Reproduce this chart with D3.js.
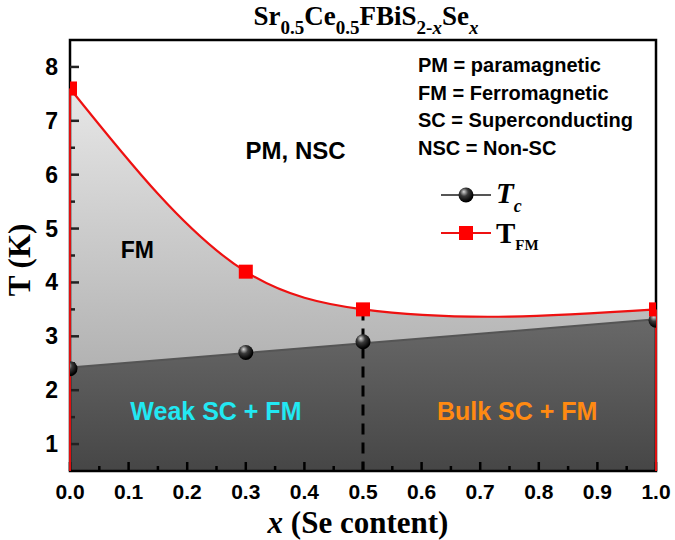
<!DOCTYPE html>
<html><head><meta charset="utf-8">
<script src="https://cdn.jsdelivr.net/npm/d3@7"></script>
<style>body{margin:0;background:#fff}svg{display:block}</style>
</head><body>
<script>
// ---- data ----
const xContent = [0, 0.3, 0.5, 1.0];
const tcValues = [2.4, 2.7, 2.9, 3.3];
const tfmValues = [7.6, 4.2, 3.5, 3.5];
const xTicks = [0, 0.1, 0.2, 0.3, 0.4, 0.5, 0.6, 0.7, 0.8, 0.9, 1.0];
const yTicks = [1, 2, 3, 4, 5, 6, 7, 8];
const glossary = ["PM = paramagnetic", "FM = Ferromagnetic", "SC = Superconducting", "NSC = Non-SC"];
const dashedAt = 0.5;

// natural cubic spline parameterised by x, as a d3 curve
function NaturalX(context) { this._context = context; }
NaturalX.prototype = {
  areaStart() { this._line = 0; },
  areaEnd() { this._line = NaN; },
  lineStart() { this._x = []; this._y = []; },
  point(px, py) { this._x.push(+px); this._y.push(+py); },
  lineEnd() {
    const X = this._x, Y = this._y, n = X.length, c = this._context;
    if (n) {
      this._line ? c.lineTo(X[0], Y[0]) : c.moveTo(X[0], Y[0]);
      if (n === 2) c.lineTo(X[1], Y[1]);
      else if (n > 2) {
        const h = [], d = [];
        for (let i = 0; i < n - 1; i++) { h[i] = X[i + 1] - X[i]; d[i] = (Y[i + 1] - Y[i]) / h[i]; }
        const M = new Array(n).fill(0);
        const a = [], b = [], cc = [], r = [];
        for (let i = 1; i < n - 1; i++) {
          a[i] = h[i - 1]; b[i] = 2 * (h[i - 1] + h[i]); cc[i] = h[i]; r[i] = 6 * (d[i] - d[i - 1]);
        }
        for (let i = 2; i < n - 1; i++) {
          const w = a[i] / b[i - 1];
          b[i] -= w * cc[i - 1]; r[i] -= w * r[i - 1];
        }
        for (let i = n - 2; i >= 1; i--) {
          M[i] = (r[i] - (i < n - 2 ? cc[i] * M[i + 1] : 0)) / b[i];
        }
        for (let i = 0; i < n - 1; i++) {
          const s0 = d[i] - h[i] * (2 * M[i] + M[i + 1]) / 6;
          const s1 = d[i] + h[i] * (M[i] + 2 * M[i + 1]) / 6;
          c.bezierCurveTo(X[i] + h[i] / 3, Y[i] + s0 * h[i] / 3,
                          X[i + 1] - h[i] / 3, Y[i + 1] - s1 * h[i] / 3,
                          X[i + 1], Y[i + 1]);
        }
      }
    }
    if (this._line || (this._line !== 0 && n === 1)) c.closePath();
    this._line = 1 - this._line;
    this._x = this._y = null;
  }
};
const curveNaturalX = ctx => new NaturalX(ctx);

const W = 675, H = 540;
const m = {left: 70, right: 19, top: 40, bottom: 69};
const svg = d3.select("body").append("svg").attr("width", W).attr("height", H);
const x = d3.scaleLinear().domain([0, 1]).range([m.left, W - m.right]);
const y = d3.scaleLinear().domain([0.5, 8.5]).range([H - m.bottom, m.top]);

const defs = svg.append("defs");
defs.append("clipPath").attr("id", "plot").append("rect")
  .attr("x", x(0)).attr("y", y(8.5)).attr("width", x(1) - x(0)).attr("height", y(0.5) - y(8.5));
const gLight = defs.append("linearGradient").attr("id", "light").attr("gradientUnits", "userSpaceOnUse")
  .attr("x1", 0).attr("x2", 0).attr("y1", y(8.5)).attr("y2", y(2.4));
gLight.append("stop").attr("offset", 0).attr("stop-color", "#f0f0f0");
gLight.append("stop").attr("offset", 1).attr("stop-color", "#b2b2b2");
const gDark = defs.append("linearGradient").attr("id", "dark").attr("gradientUnits", "userSpaceOnUse")
  .attr("x1", 0).attr("x2", 0).attr("y1", y(3.3)).attr("y2", y(0.5));
gDark.append("stop").attr("offset", 0).attr("stop-color", "#686868");
gDark.append("stop").attr("offset", 1).attr("stop-color", "#464646");
const gBall = defs.append("radialGradient").attr("id", "ball").attr("cx", "40%").attr("cy", "35%").attr("r", "60%").attr("fx", "35%").attr("fy", "28%");
gBall.append("stop").attr("offset", 0).attr("stop-color", "#d8d8d8");
gBall.append("stop").attr("offset", 0.45).attr("stop-color", "#3a3a3a");
gBall.append("stop").attr("offset", 1).attr("stop-color", "#000");

const tfmData = xContent.map((d, i) => [d, tfmValues[i]]);
const tcData = xContent.map((d, i) => [d, tcValues[i]]);

// linear fit of Tc
const mx = d3.mean(xContent), my = d3.mean(tcValues);
const slope = d3.sum(xContent, (d, i) => (d - mx) * (tcValues[i] - my)) / d3.sum(xContent, d => (d - mx) ** 2);
const icpt = my - slope * mx;
const fitData = x.domain().map(d => [d, icpt + slope * d]);

// light area under TFM
svg.append("path").datum(tfmData)
  .attr("d", d3.area().x(d => x(d[0])).y0(y(0.5)).y1(d => y(d[1])).curve(curveNaturalX))
  .attr("fill", "url(#light)");
// dark area under Tc fit
svg.append("path").datum(fitData)
  .attr("d", d3.area().x(d => x(d[0])).y0(y(0.5)).y1(d => y(d[1])))
  .attr("fill", "url(#dark)");

// frame
svg.append("rect").attr("x", x(0)).attr("y", y(8.5)).attr("width", x(1) - x(0)).attr("height", y(0.5) - y(8.5))
  .attr("fill", "none").attr("stroke", "#000").attr("stroke-width", 2.5);

// ticks (inward)
const minorX = d3.range(0.05, 1, 0.1);
svg.append("g").selectAll("line").data(xTicks).join("line")
  .attr("x1", d => x(d)).attr("x2", d => x(d)).attr("y1", y(0.5)).attr("y2", y(0.5) - 9)
  .attr("stroke", "#000").attr("stroke-width", 2.5);
svg.append("g").selectAll("line").data(minorX).join("line")
  .attr("x1", d => x(d)).attr("x2", d => x(d)).attr("y1", y(0.5)).attr("y2", y(0.5) - 5)
  .attr("stroke", "#000").attr("stroke-width", 2.5);
const minorY = d3.range(1.5, 8.5, 1);
svg.append("g").selectAll("line").data(yTicks).join("line")
  .attr("x1", x(0)).attr("x2", x(0) + 9).attr("y1", d => y(d)).attr("y2", d => y(d))
  .attr("stroke", "#222").attr("stroke-width", 2.5);
svg.append("g").selectAll("line").data(minorY).join("line")
  .attr("x1", x(0)).attr("x2", x(0) + 5).attr("y1", d => y(d)).attr("y2", d => y(d))
  .attr("stroke", "#222").attr("stroke-width", 2.5);

const sans = "Liberation Sans, Arial, sans-serif";
const serif = "Liberation Serif, Times New Roman, serif";

// tick labels
svg.append("g").selectAll("text").data(xTicks).join("text")
  .attr("x", d => x(d)).attr("y", 499).attr("text-anchor", "middle")
  .attr("font-family", sans).attr("font-weight", "bold").attr("font-size", 21)
  .text(d => d.toFixed(1));
svg.append("g").selectAll("text").data(yTicks).join("text")
  .attr("x", x(0) - 12).attr("y", d => y(d) + 8).attr("text-anchor", "end")
  .attr("font-family", sans).attr("font-weight", "bold").attr("font-size", 23)
  .text(d => d);

// Tc fit line
svg.append("path").datum(fitData)
  .attr("d", d3.line().x(d => x(d[0])).y(d => y(d[1])))
  .attr("fill", "none").attr("stroke", "#555").attr("stroke-width", 2);

// dashed line at x = 0.5
const iDash = xContent.indexOf(dashedAt);
svg.append("line").attr("x1", x(dashedAt)).attr("x2", x(dashedAt))
  .attr("y1", y(tfmValues[iDash])).attr("y2", y(0.5))
  .attr("stroke", "#000").attr("stroke-width", 3).attr("stroke-dasharray", "11,8");

// TFM curve and red edges
svg.append("path").datum(tfmData)
  .attr("d", d3.line().x(d => x(d[0])).y(d => y(d[1])).curve(curveNaturalX))
  .attr("fill", "none").attr("stroke", "#ee1111").attr("stroke-width", 2.2);
[tfmData[0], tfmData[tfmData.length - 1]].forEach(d => {
  svg.append("line").attr("x1", x(d[0])).attr("x2", x(d[0])).attr("y1", y(d[1])).attr("y2", y(0.5))
    .attr("stroke", "#dd1111").attr("stroke-width", 2);
});

// markers (clipped to plot)
const mk = svg.append("g").attr("clip-path", "url(#plot)");
mk.selectAll("circle").data(tcData).join("circle")
  .attr("cx", d => x(d[0])).attr("cy", d => y(d[1])).attr("r", 7.5).attr("fill", "url(#ball)");
mk.selectAll("rect").data(tfmData).join("rect")
  .attr("x", d => x(d[0]) - 7).attr("y", d => y(d[1]) - 7).attr("width", 14).attr("height", 14).attr("fill", "#ff0000");

// region labels
function lab(t, px, py, col, size) {
  svg.append("text").attr("x", px).attr("y", py).attr("text-anchor", "middle").attr("font-family", sans)
    .attr("font-weight", "bold").attr("font-size", size).attr("fill", col).text(t);
}
lab("PM, NSC", x(0.385), y(6.3), "#000", 24);
lab("FM", x(0.115), y(4.45), "#000", 23);
lab("Weak SC + FM", x(0.249), 420, "#22e8f2", 25);
lab("Bulk SC + FM", x(0.763), 420, "#ff8a12", 25);

// glossary
svg.append("g").selectAll("text").data(glossary).join("text")
  .attr("x", 418).attr("y", (d, i) => 72 + i * 27.6)
  .attr("font-family", sans).attr("font-weight", "bold").attr("font-size", 20).text(d => d);

// legend
const lgX1 = 441, lgX2 = 491, lgYc = 195, lgYf = 233;
svg.append("line").attr("x1", lgX1).attr("x2", lgX2).attr("y1", lgYc).attr("y2", lgYc).attr("stroke", "#555").attr("stroke-width", 2);
svg.append("circle").attr("cx", (lgX1 + lgX2) / 2).attr("cy", lgYc).attr("r", 7.5).attr("fill", "url(#ball)");
svg.append("line").attr("x1", lgX1).attr("x2", lgX2).attr("y1", lgYf).attr("y2", lgYf).attr("stroke", "#ee1111").attr("stroke-width", 2.2);
svg.append("rect").attr("x", (lgX1 + lgX2) / 2 - 7).attr("y", lgYf - 7).attr("width", 14).attr("height", 14).attr("fill", "#ff0000");
const t1 = svg.append("text").attr("x", 496).attr("y", 203).attr("font-family", serif).attr("font-weight", "bold").attr("font-size", 29);
t1.append("tspan").attr("font-style", "italic").text("T");
t1.append("tspan").attr("font-style", "italic").attr("font-size", 18).attr("dy", 9).text("c");
const t2 = svg.append("text").attr("x", 496).attr("y", 243).attr("font-family", serif).attr("font-weight", "bold").attr("font-size", 29);
t2.append("tspan").text("T");
t2.append("tspan").attr("font-size", 15).attr("dy", 7).text("FM");

// title
const tt = svg.append("text").attr("x", 366).attr("y", 25).attr("text-anchor", "middle")
  .attr("font-family", serif).attr("font-weight", "bold").attr("font-size", 27);
const parts = [["Sr", 0], ["0.5", 1], ["Ce", 0], ["0.5", 1], ["FBiS", 0], ["2-", 1], ["x", 2], ["Se", 0], ["x", 3]];
let state = 0;
parts.forEach(([s, sub]) => {
  const ts = tt.append("tspan").text(s);
  const isSub = sub > 0;
  if (isSub && state === 0) ts.attr("dy", 9);
  if (!isSub && state === 1) ts.attr("dy", -9);
  if (isSub) ts.attr("font-size", 19);
  if (sub >= 2) ts.attr("font-style", "italic");
  state = isSub ? 1 : 0;
});

// axis titles
const xl = svg.append("text").attr("x", 358).attr("y", 533).attr("text-anchor", "middle")
  .attr("font-family", serif).attr("font-weight", "bold").attr("font-size", 31);
xl.append("tspan").attr("font-style", "italic").text("x");
xl.append("tspan").text(" (Se content)");
svg.append("text").attr("transform", "translate(30,260) rotate(-90)").attr("text-anchor", "middle")
  .attr("font-family", serif).attr("font-weight", "bold").attr("font-size", 31).text("T (K)");
</script>
</body></html>
